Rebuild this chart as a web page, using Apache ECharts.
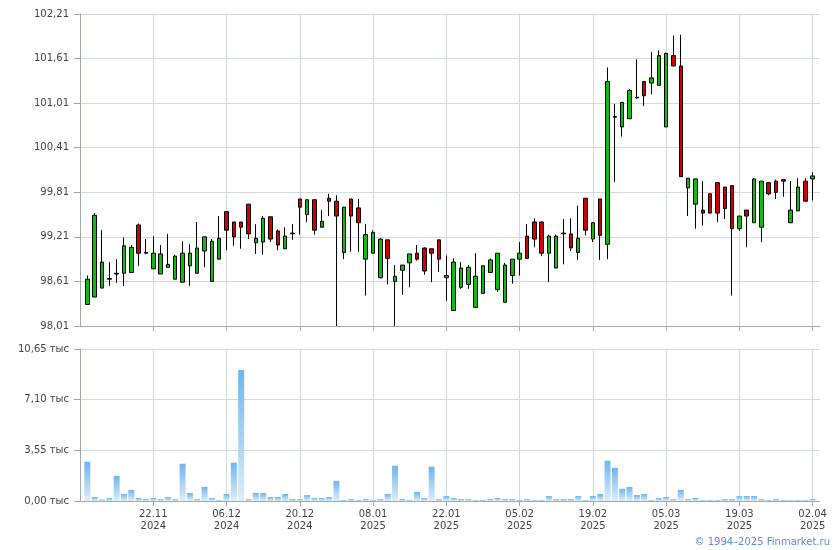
<!DOCTYPE html>
<html><head><meta charset="utf-8">
<script src="https://cdn.jsdelivr.net/npm/echarts@6/dist/echarts.min.js"></script>
<style>html,body{margin:0;padding:0;background:#fff}#c{width:840px;height:550px}</style>
</head><body><div id="c"></div>
<script>
const dates = [
'08.11.2024','11.11.2024','12.11.2024','13.11.2024','14.11.2024','15.11.2024','18.11.2024','19.11.2024','20.11.2024','21.11.2024',
'22.11.2024','25.11.2024','26.11.2024','27.11.2024','28.11.2024','29.11.2024','02.12.2024','03.12.2024','04.12.2024','05.12.2024',
'06.12.2024','09.12.2024','10.12.2024','11.12.2024','12.12.2024','13.12.2024','16.12.2024','17.12.2024','18.12.2024','19.12.2024',
'20.12.2024','23.12.2024','24.12.2024','25.12.2024','26.12.2024','27.12.2024','28.12.2024','30.12.2024','03.01.2025','06.01.2025',
'08.01.2025','09.01.2025','10.01.2025','13.01.2025','14.01.2025','15.01.2025','16.01.2025','17.01.2025','20.01.2025','21.01.2025',
'22.01.2025','23.01.2025','24.01.2025','27.01.2025','28.01.2025','29.01.2025','30.01.2025','31.01.2025','03.02.2025','04.02.2025',
'05.02.2025','06.02.2025','07.02.2025','10.02.2025','11.02.2025','12.02.2025','13.02.2025','14.02.2025','17.02.2025','18.02.2025',
'19.02.2025','20.02.2025','21.02.2025','24.02.2025','25.02.2025','26.02.2025','27.02.2025','28.02.2025','03.03.2025','04.03.2025',
'05.03.2025','06.03.2025','07.03.2025','10.03.2025','11.03.2025','12.03.2025','13.03.2025','14.03.2025','17.03.2025','18.03.2025',
'19.03.2025','20.03.2025','21.03.2025','24.03.2025','25.03.2025','26.03.2025','27.03.2025','28.03.2025','31.03.2025','01.04.2025',
'02.04.2025','03.04.2025'];

const openP = [null,
98.30,98.40,98.52,98.64,98.71,98.72,98.73,99.37,99.00,98.78,
98.71,98.80,98.64,98.60,98.82,98.72,99.02,98.61,98.91,99.55,
99.41,99.41,99.65,99.13,99.14,99.48,99.29,99.05,99.25,99.72,
99.51,99.71,99.34,99.73,99.69,99.00,99.72,99.60,98.91,98.99,
98.66,99.17,98.61,98.76,98.86,98.99,99.06,99.05,99.17,98.66,
98.22,98.53,98.57,98.26,98.45,98.73,98.50,98.33,98.69,98.91,
99.22,99.41,99.41,98.99,98.79,99.25,99.25,99.00,99.73,99.18,
99.72,99.11,100.82,100.69,100.80,101.08,101.30,101.28,101.25,100.69,
101.65,101.51,99.87,99.65,99.57,99.79,99.94,99.88,99.90,99.32,
99.57,99.40,99.34,99.94,99.96,99.98,99.40,99.56,99.96,99.99, null];
const closeP = [null,
98.64,99.50,98.87,98.65,98.72,99.09,99.07,98.99,98.99,98.99,
98.98,98.84,98.95,98.99,98.99,99.06,99.21,99.15,99.19,99.30,
99.21,99.34,99.25,99.19,99.46,99.18,99.10,99.22,99.26,99.61,
99.71,99.30,99.42,99.69,99.49,99.61,99.49,99.40,99.24,99.27,
99.18,98.92,98.68,98.83,98.98,98.91,98.75,98.99,98.91,98.69,
98.87,98.79,98.80,98.68,98.82,98.90,98.99,98.83,98.91,98.99,
98.92,99.18,98.99,99.22,99.22,99.26,99.06,99.19,99.30,99.40,
99.23,101.30,100.83,101.02,101.18,101.09,101.11,101.35,101.65,101.68,
101.51,100.02,100.00,99.99,99.53,99.53,99.53,99.59,99.32,99.49,
99.49,99.99,99.96,99.79,99.81,99.96,99.57,99.88,99.69,100.03, null];
const lowP = [null,
98.30,98.40,98.52,98.55,98.59,98.55,98.73,98.82,98.98,98.78,
98.71,98.80,98.64,98.60,98.55,98.72,98.80,98.61,98.91,99.03,
99.09,99.05,99.18,98.98,98.97,99.14,99.03,99.05,99.17,99.24,
99.41,99.24,99.34,99.49,98.01,98.91,99.01,99.01,98.42,98.99,
98.65,98.57,98.01,98.43,98.53,98.89,98.70,98.60,98.74,98.35,
98.22,98.51,98.51,98.26,98.45,98.73,98.47,98.33,98.58,98.69,
98.92,99.07,98.95,98.60,98.79,98.84,99.02,98.90,99.23,99.14,
98.90,98.91,99.95,100.56,100.80,101.07,100.97,101.13,101.25,100.69,
101.51,100.02,99.49,99.32,99.36,99.53,99.41,99.45,98.42,99.29,
99.07,99.40,99.14,99.77,99.72,99.75,99.40,99.56,99.69,99.70, null];
const highP = [null,
98.69,99.53,99.30,98.87,98.91,99.20,99.10,99.39,99.18,99.22,
99.10,99.25,98.97,99.15,99.11,99.41,99.21,99.18,99.49,99.55,
99.41,99.41,99.65,99.38,99.49,99.48,99.31,99.34,99.38,99.72,
99.71,99.71,99.57,99.79,99.77,99.61,99.72,99.72,99.38,99.30,
99.19,99.17,98.83,98.83,98.98,99.10,99.07,99.05,99.17,98.96,
98.92,98.87,98.83,98.99,98.83,98.92,98.99,98.86,98.91,99.14,
99.38,99.46,99.42,99.24,99.24,99.45,99.46,99.63,99.73,99.41,
99.72,101.49,101.00,101.02,101.20,101.60,101.30,101.70,101.72,101.69,
101.92,101.93,100.00,99.99,99.96,99.79,99.94,99.88,99.90,99.49,
99.57,100.00,99.96,99.94,99.98,99.98,99.96,100.00,100.00,100.08, null];
const volumeK = [null,
2.75,0.28,0.10,0.21,1.76,0.49,0.78,0.21,0.14,0.21,
0.14,0.28,0.14,2.61,0.56,0.14,0.99,0.21,0.07,0.49,
2.68,9.17,0.14,0.56,0.56,0.28,0.28,0.49,0.14,0.14,
0.42,0.21,0.21,0.28,1.41,0.07,0.14,0.07,0.14,0.07,
0.14,0.49,2.47,0.14,0.07,0.63,0.21,2.40,0.14,0.35,
0.21,0.14,0.14,0.07,0.07,0.14,0.21,0.14,0.14,0.07,
0.14,0.07,0.07,0.35,0.14,0.14,0.14,0.35,0.07,0.35,
0.49,2.82,2.33,0.85,0.99,0.42,0.49,0.07,0.21,0.28,
0.14,0.78,0.14,0.21,0.07,0.07,0.07,0.14,0.14,0.35,
0.35,0.35,0.14,0.07,0.14,0.07,0.07,0.07,0.07,0.14, null];
const priceTicks = [98.01, 98.61, 99.21, 99.81, 100.41, 101.01, 101.61, 102.21];
const volTicks = [0, 3.55, 7.10, 10.65];

const FONT = 'DejaVu Sans';
const TXT = '#444444';
const GRIDC = '#d3d8dc';
const AXC = '#a3a7ae';

const candleData = dates.map((d, i) => openP[i] == null ? '-' : [openP[i], closeP[i], lowP[i], highP[i]]);
const volData = dates.map((d, i) => volumeK[i] == null ? '-' : volumeK[i]);
const every10 = (i) => i > 0 && i % 10 === 0;
const fmt = (v) => Number(v).toFixed(2).replace('.', ',');

const chart = echarts.init(document.getElementById('c'), null, {renderer: 'canvas'});
chart.setOption({
  animation: false,
  backgroundColor: '#fff',
  grid: [
    {left: 80, right: 20, top: 14, height: 312},
    {left: 80, right: 20, top: 349, height: 152}
  ],
  xAxis: [
    {type: 'category', gridIndex: 0, data: dates, boundaryGap: false,
     axisLine: {lineStyle: {color: AXC}},
     axisTick: {show: true, interval: (i) => every10(i), length: 5, lineStyle: {color: AXC}},
     axisLabel: {show: false},
     splitLine: {show: true, interval: (i) => every10(i), lineStyle: {color: GRIDC, width: 1}}},
    {type: 'category', gridIndex: 1, data: dates, boundaryGap: false,
     axisLine: {lineStyle: {color: AXC}},
     axisTick: {show: true, interval: (i) => every10(i), length: 5, lineStyle: {color: AXC}},
     axisLabel: {show: true, interval: (i) => every10(i), color: TXT, fontFamily: FONT, fontSize: 10, lineHeight: 12, margin: 7,
       formatter: (v) => v.slice(0, 5) + '\n' + v.slice(6)},
     splitLine: {show: true, interval: (i) => every10(i), lineStyle: {color: GRIDC, width: 1}}}
  ],
  yAxis: [
    {type: 'value', gridIndex: 0, min: 98.01, max: 102.21, scale: true,
     axisLine: {show: true, lineStyle: {color: AXC}},
     axisTick: {show: true, length: 6, customValues: priceTicks, lineStyle: {color: AXC}},
     axisLabel: {customValues: priceTicks, color: TXT, fontFamily: FONT, fontSize: 10, margin: 11, formatter: fmt},
     splitLine: {show: true, lineStyle: {color: GRIDC, width: 1}}},
    {type: 'value', gridIndex: 1, min: 0, max: 10.65, interval: 3.55,
     axisLine: {show: true, lineStyle: {color: AXC}},
     axisTick: {show: true, length: 6, lineStyle: {color: AXC}},
     axisLabel: {color: TXT, fontFamily: FONT, fontSize: 10, margin: 11, formatter: (v) => fmt(v) + ' тыс'},
     splitLine: {show: true, lineStyle: {color: GRIDC, width: 1}}}
  ],
  series: [
    {type: 'candlestick', xAxisIndex: 0, yAxisIndex: 0, data: candleData, barWidth: 4,
     itemStyle: {color: '#0cbf0c', color0: '#d00000', borderColor: '#000', borderColor0: '#000', borderColorDoji: '#000', borderWidth: 1}},
    {type: 'bar', xAxisIndex: 1, yAxisIndex: 1, data: volData, barWidth: 6,
     itemStyle: {color: new echarts.graphic.LinearGradient(0, 0, 0, 1, [
       {offset: 0, color: '#6cb5ef'}, {offset: 1, color: '#deedfb'}])}}
  ],
  graphic: [
    {type: 'text', right: 10, top: 537, style: {text: '© 1994–2025 Finmarket.ru', fill: '#5f86d8', font: '10px "DejaVu Sans"'}}
  ]
});
</script>
</body></html>
